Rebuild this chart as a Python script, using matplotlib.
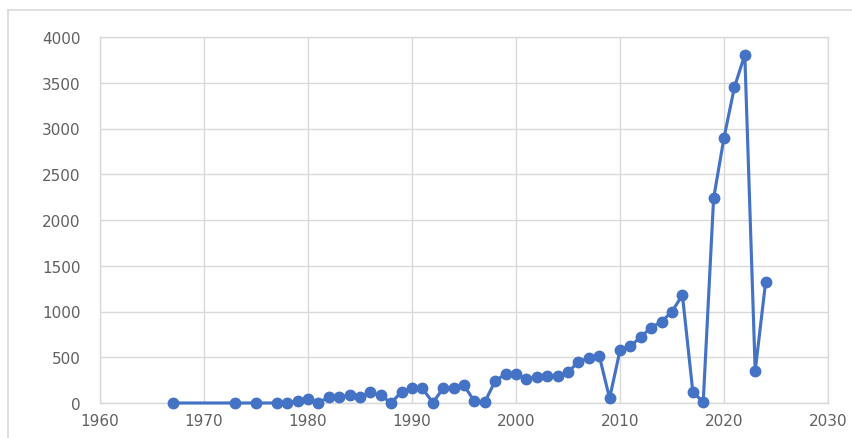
import matplotlib
matplotlib.use("Agg")
import matplotlib.pyplot as plt
from matplotlib.lines import Line2D

years = [1967, 1973, 1975, 1977, 1978, 1979, 1980, 1981, 1982, 1983, 1984, 1985,
         1986, 1987, 1988, 1989, 1990, 1991, 1992, 1993, 1994, 1995, 1996, 1997,
         1998, 1999, 2000, 2001, 2002, 2003, 2004, 2005, 2006, 2007, 2008, 2009,
         2010, 2011, 2012, 2013, 2014, 2015, 2016, 2017, 2018, 2019, 2020, 2021,
         2022, 2023, 2024]
values = [0, 0, 0, 0, 4, 26, 44, 4, 62, 62, 88, 66,
          117, 84, 0, 124, 168, 160, 4, 160, 168, 193, 18, 11,
          241, 317, 321, 259, 288, 299, 295, 335, 452, 489, 518, 51,
          576, 620, 722, 824, 890, 999, 1181, 124, 7, 2236, 2899, 3450,
          3807, 350, 1320]

x_ticks = [1960, 1970, 1980, 1990, 2000, 2010, 2020, 2030]
y_ticks = [0, 500, 1000, 1500, 2000, 2500, 3000, 3500, 4000]

fig = plt.figure(figsize=(8.53, 4.39), dpi=100)
ax = fig.add_axes([100/853, 1-404/439, 728/853, 366/439])

ax.plot(years, values, color="#4472C4", linewidth=2.25, marker="o",
        markersize=7.5, markerfacecolor="#4472C4", markeredgecolor="#4472C4",
        clip_on=False, zorder=3)

ax.set_xlim(1960, 2030)
ax.set_ylim(0, 4000)
ax.set_xticks(x_ticks)
ax.set_yticks(y_ticks)
ax.grid(True, color="#d9d9d9", linewidth=1)
ax.set_axisbelow(True)
for s in ax.spines.values():
    s.set_color("#d9d9d9")
    s.set_linewidth(1)
ax.tick_params(length=0, labelsize=11, labelcolor="#606060")
ax.tick_params(axis="y", pad=14)
ax.tick_params(axis="x", pad=7)

# outer chart frame
fig.add_artist(Line2D([8/853, 1], [1-11/439, 1-11/439], color="#d9d9d9", linewidth=1.2))
fig.add_artist(Line2D([8/853, 8/853], [0, 1-11/439], color="#d9d9d9", linewidth=1.2))

fig.savefig("out.png", dpi=100)
